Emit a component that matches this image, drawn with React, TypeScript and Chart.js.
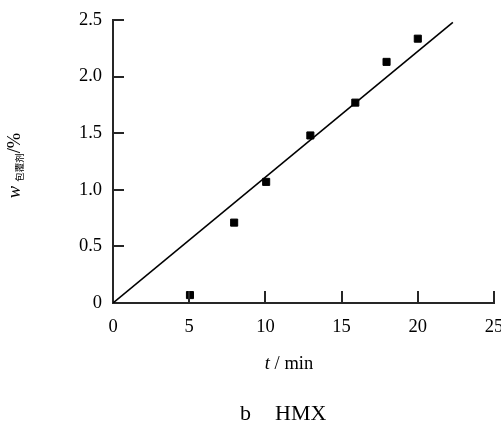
import React, { useEffect, useRef } from "react";
import { Chart, registerables } from "chart.js";
Chart.register(...registerables);

// measured data: time (min) vs coating agent content (%)
const timeMin = [5.05, 7.95, 10.05, 12.95, 15.9, 17.95, 20.0];
const coatingPct = [0.07, 0.71, 1.07, 1.48, 1.77, 2.13, 2.335];
// fitted straight line
const fitX = [0, 22.3];
const fitY = [0, 2.48];
// tick values
const xTicks = [0, 5, 10, 15, 20, 25];
const yTicks = [0, 0.5, 1.0, 1.5, 2.0, 2.5];

const SERIF = '"Liberation Serif", "Times New Roman", serif';
const CJK = '"Noto Sans CJK SC", sans-serif';
const AXIS = "#262626";
const FS = 18.5;

const decor = {
  id: "decor",
  afterDraw(chart: any) {
    const { ctx, chartArea, scales } = chart;
    const { left, top, bottom } = chartArea;
    const x = scales.x;
    const y = scales.y;
    ctx.save();
    // inward tick marks
    ctx.strokeStyle = AXIS;
    ctx.lineWidth = 2;
    ctx.beginPath();
    xTicks.forEach((v) => {
      if (v === 0) return;
      const px = Math.round(x.getPixelForValue(v));
      ctx.moveTo(px, bottom);
      ctx.lineTo(px, bottom - 12);
    });
    yTicks.forEach((v) => {
      if (v === 0) return;
      const py = Math.round(y.getPixelForValue(v));
      ctx.moveTo(left, py);
      ctx.lineTo(left + 11, py);
    });
    ctx.stroke();

    ctx.fillStyle = "#000";
    ctx.textBaseline = "alphabetic";
    ctx.textAlign = "left";

    // y axis title (rotated)
    ctx.save();
    ctx.translate(20, (top + bottom) / 2 + 4);
    ctx.rotate(-Math.PI / 2);
    ctx.font = `italic ${FS}px ${SERIF}`;
    const wW = ctx.measureText("w").width;
    ctx.font = "9.5px " + CJK;
    const sW = ctx.measureText("包覆剂").width;
    ctx.font = `${FS}px ${SERIF}`;
    const pW = ctx.measureText("/%").width;
    const gap = 4;
    let cx = -(wW + gap + sW + pW) / 2;
    ctx.font = `italic ${FS}px ${SERIF}`;
    ctx.fillText("w", cx, 0);
    cx += wW + gap;
    ctx.font = "9.5px " + CJK;
    ctx.fillText("包覆剂", cx, 3);
    cx += sW;
    ctx.font = `${FS}px ${SERIF}`;
    ctx.fillText("/%", cx, 0);
    ctx.restore();

    // x axis title
    ctx.font = `italic ${FS}px ${SERIF}`;
    const tW = ctx.measureText("t").width;
    ctx.font = `${FS}px ${SERIF}`;
    const rW = ctx.measureText(" / min").width;
    const tx = left + 176 - (tW + rW) / 2;
    ctx.font = `italic ${FS}px ${SERIF}`;
    ctx.fillText("t", tx, bottom + 66);
    ctx.font = `${FS}px ${SERIF}`;
    ctx.fillText(" / min", tx + tW, bottom + 66);

    // caption
    ctx.font = `22px ${SERIF}`;
    ctx.fillText("b", 240, bottom + 117);
    ctx.fillText("HMX", 275, bottom + 117);
    ctx.restore();
  },
};

export default function App() {
  const ref = useRef<HTMLCanvasElement | null>(null);
  useEffect(() => {
    document.body.style.margin = "0";
    const canvas = ref.current;
    if (!canvas) return;
    const chart = new Chart(canvas, {
      type: "scatter",
      data: {
        datasets: [
          {
            label: "data",
            data: timeMin.map((t, i) => ({ x: t, y: coatingPct[i] })),
            pointStyle: "rect",
            pointRadius: 5,
            backgroundColor: "#000",
            borderColor: "#000",
            borderWidth: 1,
            showLine: false,
          },
          {
            label: "fit",
            type: "line",
            data: fitX.map((t, i) => ({ x: t, y: fitY[i] })),
            borderColor: "#000",
            borderWidth: 1.6,
            pointRadius: 0,
            fill: false,
          } as any,
        ],
      },
      options: {
        animation: false,
        responsive: true,
        maintainAspectRatio: false,
        layout: { padding: { top: 20, left: 0, right: 7, bottom: 0 } },
        plugins: {
          legend: { display: false },
          tooltip: { enabled: false },
        },
        scales: {
          x: {
            type: "linear",
            min: 0,
            max: 25,
            afterBuildTicks: (s: any) => {
              s.ticks = xTicks.map((v) => ({ value: v }));
            },
            afterFit: (s: any) => {
              s.height = 120;
              s.paddingLeft = 0;
              s.paddingRight = 0;
            },
            grid: { display: true, drawOnChartArea: false, drawTicks: false },
            border: { display: true, color: AXIS, width: 2 },
            ticks: {
              padding: 13,
              color: "#000",
              font: { family: SERIF, size: FS },
              maxRotation: 0,
              callback: (v: any) => String(v),
            },
          },
          y: {
            type: "linear",
            min: 0,
            max: 2.5,
            afterBuildTicks: (s: any) => {
              s.ticks = yTicks.map((v) => ({ value: v }));
            },
            afterFit: (s: any) => {
              s.width = 113;
              s.paddingTop = 0;
              s.paddingBottom = 0;
            },
            grid: { display: true, drawOnChartArea: false, drawTicks: false },
            border: { display: true, color: AXIS, width: 2 },
            ticks: {
              padding: 11,
              color: "#000",
              font: { family: SERIF, size: FS },
              callback: (v: any) => (Number(v) === 0 ? "0" : Number(v).toFixed(1)),
            },
          },
        },
      },
      plugins: [decor],
    });
    return () => chart.destroy();
  }, []);
  return (
    <div style={{ position: "relative", width: 501, height: 423 }}>
      <canvas ref={ref} />
    </div>
  );
}
